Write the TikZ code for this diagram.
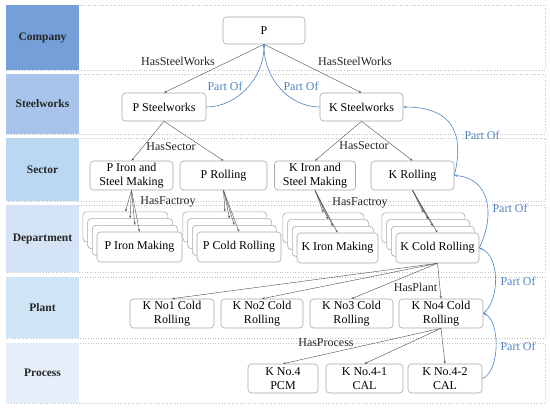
\documentclass[tikz,border=0pt]{standalone}
\usepackage{fontspec}
\setmainfont{Liberation Serif}
\usetikzlibrary{arrows.meta}
\definecolor{cCompany}{HTML}{759FD8}
\definecolor{cSteel}{HTML}{A8C4EA}
\definecolor{cSector}{HTML}{BAD8F1}
\definecolor{cDept}{HTML}{D4E3F5}
\definecolor{cPlant}{HTML}{CDE5F5}
\definecolor{cProcess}{HTML}{E6EFF9}
\definecolor{boxgray}{HTML}{A8A8A8}
\definecolor{rowgray}{HTML}{C4C4C4}
\definecolor{edgegray}{HTML}{5A5A5A}
\definecolor{partblue}{HTML}{4F84C4}
\newcommand{\boxfont}{\fontsize{12}{14}\selectfont}
\newcommand{\layerfont}{\fontsize{11.5}{13}\selectfont\bfseries}
\tikzset{
  layerbox/.style={fill=#1, draw=none, minimum width=73pt, inner sep=0pt, font=\layerfont, text=black!85},
  rowline/.style={draw=rowgray, dotted, line width=0.6pt},
  box/.style={draw=boxgray, rounded corners=3.5pt, fill=white, line width=0.6pt, inner sep=0pt, align=center, font=\boxfont, minimum height=29pt},
  edge/.style={draw=edgegray, line width=0.45pt, -{Stealth[length=2.8pt,width=2.2pt]}},
  partof/.style={draw=partblue, line width=0.6pt, -{Stealth[length=3pt,width=2.4pt]}},
  elabel/.style={font=\boxfont, text=black!85, inner sep=1pt},
  plabel/.style={font=\boxfont, text=partblue, inner sep=1pt}
}
\begin{document}
\begin{tikzpicture}[x=1pt,y=-1pt]
\useasboundingbox (0,0) rectangle (550,408);
\fill[white] (0,0) rectangle (550,408);
% rows
\draw[rowline] (6,5) rectangle (545,70);
\draw[rowline] (6,74) rectangle (545,134);
\draw[rowline] (6,138) rectangle (545,201);
\draw[rowline] (6,205) rectangle (545,272);
\draw[rowline] (6,277) rectangle (545,338);
\draw[rowline] (6,343) rectangle (545,403);
\node[layerbox=cCompany, minimum height=65pt] (Lcompany) at (42.5,37.5) {Company};
\node[layerbox=cSteel, minimum height=60pt] (Lsteel) at (42.5,104) {Steelworks};
\node[layerbox=cSector, minimum height=63pt] (Lsector) at (42.5,169.5) {Sector};
\node[layerbox=cDept, minimum height=67pt] (Ldept) at (42.5,238.5) {Department};
\node[layerbox=cPlant, minimum height=61pt] (Lplant) at (42.5,307.5) {Plant};
\node[layerbox=cProcess, minimum height=60pt] (Lprocess) at (42.5,373) {Process};
% company / steelworks
\node[box, minimum width=82pt, minimum height=27pt] (P) at (264,30.5) {P};
\node[box, minimum width=84pt, minimum height=28pt] (PSteel) at (164,107) {P Steelworks};
\node[box, minimum width=83pt, minimum height=28pt] (KSteel) at (361.5,107) {K Steelworks};
% sector
\node[box, minimum width=83pt] (PIron) at (131.5,175.5) {P Iron and\\Steel Making};
\node[box, minimum width=87pt] (PRoll) at (223.5,175.5) {P Rolling};
\node[box, minimum width=81pt] (KIron) at (315,175.5) {K Iron and\\Steel Making};
\node[box, minimum width=83pt] (KRoll) at (412.5,175.5) {K Rolling};
% department stacks
\foreach \k in {3,2,1} {
  \node[box, minimum width=85pt, minimum height=30pt] (PIM\k) at (139.5-4.7*\k, 247-6.7*\k) {};
  \node[box, minimum width=84pt, minimum height=30pt] (PCR\k) at (239-4.7*\k, 247-6.7*\k) {};
  \node[box, minimum width=81pt, minimum height=30pt] (KIM\k) at (337.5-4.7*\k, 248-6.7*\k) {};
  \node[box, minimum width=83pt, minimum height=30pt] (KCR\k) at (437.5-4.7*\k, 248-6.7*\k) {};
}
\node[box, minimum width=85pt, minimum height=30pt] (PIM0) at (139.5,247) {P Iron Making};
\node[box, minimum width=84pt, minimum height=30pt] (PCR0) at (239,247) {P Cold Rolling};
\node[box, minimum width=81pt, minimum height=30pt] (KIM0) at (337.5,248) {K Iron Making};
\node[box, minimum width=83pt, minimum height=30pt] (KCR0) at (437.5,248) {K Cold Rolling};
% plant
\node[box, minimum width=84pt] (KN1) at (172,313.5) {K No1 Cold\\Rolling};
\node[box, minimum width=82pt] (KN2) at (262,313.5) {K No2 Cold\\Rolling};
\node[box, minimum width=83pt] (KN3) at (351.5,313.5) {K No3 Cold\\Rolling};
\node[box, minimum width=84pt] (KN4) at (441,313.5) {K No4 Cold\\Rolling};
% process
\node[box, minimum width=70pt] (PCM) at (283,378.5) {K No.4\\PCM};
\node[box, minimum width=77pt] (CAL1) at (364.5,378.5) {K No.4-1\\CAL};
\node[box, minimum width=74pt] (CAL2) at (445,378.5) {K No.4-2\\CAL};
% has-edges
\draw[edge] (P.south) -- (PSteel.north);
\draw[edge] (P.south) -- (KSteel.north);
\draw[edge] (PSteel.south) -- (PIron.north);
\draw[edge] (PSteel.south) -- (PRoll.north);
\draw[edge] (KSteel.south) -- (KIron.north);
\draw[edge] (KSteel.south) -- (KRoll.north);
\foreach \k in {0,1,2,3} {
  \draw[edge] (PIron.south) -- (PIM\k.north);
  \draw[edge] (PRoll.south) -- (PCR\k.north);
  \draw[edge] (KIron.south) -- (KIM\k.north);
  \draw[edge] (KRoll.south) -- (KCR\k.north);
}
\foreach \n in {KN1,KN2,KN3,KN4} \draw[edge] (KCR0.south) -- (\n.north);
\foreach \n in {PCM,CAL1,CAL2} \draw[edge] (KN4.south) -- (\n.north);
% edge labels
\node[elabel] (tHS1) at (178,61) {HasSteelWorks};
\node[elabel] (tHS2) at (355,61) {HasSteelWorks};
\node[elabel] (tSec1) at (171,147) {HasSector};
\node[elabel] (tSec2) at (364,146) {HasSector};
\node[elabel] (tFac1) at (168,202) {HasFactroy};
\node[elabel] (tFac2) at (360,203) {HasFactroy};
\node[elabel] (tPlant) at (415.5,287) {HasPlant};
\node[elabel] (tProc) at (326,343) {HasProcess};
% part-of curves
\draw[partof] (PSteel.east) .. controls +(30,0) and +(0,35) .. (P.south);
\draw[partof] (KSteel.west) .. controls +(-30,0) and +(0,35) .. (P.south);
\draw[partof] (KRoll.east) .. controls +(10,-40) and +(51,0) .. (KSteel.east);
\draw[partof] (KCR0.east) .. controls +(16,-33) and +(36,2.5) .. (KRoll.east);
\draw[partof] (KN4.east) .. controls +(17,-13.5) and +(20.5,7) .. (KCR0.east);
\draw[partof] (CAL2.east) .. controls +(18,-6.5) and +(17,6.5) .. (KN4.east);
\node[plabel] (tPO1) at (225,86) {Part Of};
\node[plabel] (tPO2) at (301,86) {Part Of};
\node[plabel] (tPO3) at (482,135) {Part Of};
\node[plabel] (tPO4) at (510,208) {Part Of};
\node[plabel] (tPO5) at (518,281) {Part Of};
\node[plabel] (tPO6) at (518,346) {Part Of};
\end{tikzpicture}
\end{document}
